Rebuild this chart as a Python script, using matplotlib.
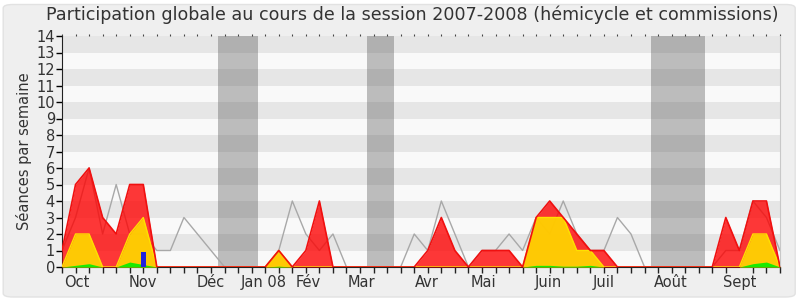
import matplotlib
matplotlib.use('Agg')
from matplotlib import pyplot as plt
from matplotlib.patches import FancyBboxPatch

# weekly values, session 2007-2008 (week 0 = start of october)
weeks = list(range(54))
presence = [1, 5, 6, 3, 2, 5, 5, 0, 0, 0, 0, 0, 0, 0, 0, 0, 1, 0, 1, 4,
            0, 0, 0, 0, 0, 0, 0, 1, 3, 1, 0, 1, 1, 1, 0, 3, 4, 3, 2, 1,
            1, 0, 0, 0, 0, 0, 0, 0, 0, 3, 1, 4, 4, 0]
hemicycle = [0, 2, 2, 0, 0, 2, 3, 0, 0, 0, 0, 0, 0, 0, 0, 0, 1, 0, 0, 0,
             0, 0, 0, 0, 0, 0, 0, 0, 0, 0, 0, 0, 0, 0, 0, 3, 3, 3, 1, 1,
             0, 0, 0, 0, 0, 0, 0, 0, 0, 0, 0, 2, 2, 0]
interventions = [0, 0.1, 0.2, 0, 0, 0.3, 0.15, 0, 0, 0, 0, 0, 0, 0, 0, 0, 0.05, 0, 0, 0,
                 0, 0, 0, 0, 0, 0, 0, 0, 0, 0, 0, 0, 0, 0, 0, 0.1, 0.1, 0.05, 0.05, 0.1,
                 0, 0, 0, 0, 0, 0, 0, 0, 0, 0, 0, 0.2, 0.3, 0]
mediane = [1, 3, 6, 2, 5, 2, 2, 1, 1, 3, 2, 1, 0, 0, 0, 0, 1, 4, 2, 1,
           2, 0, 0, 0, 0, 0, 2, 1, 4, 2, 0, 1, 1, 2, 1, 3, 2, 4, 2, 1,
           1, 3, 2, 0, 0, 0, 0, 0, 0, 1, 1, 4, 3, 1]
questions_weeks = [6]
questions = [0.9]
vacances = [(11.5, 14.5), (22.5, 24.5), (43.5, 47.5)]
mois = ['Oct', 'Nov', 'Déc', 'Jan 08', 'Fév', 'Mar', 'Avr', 'Mai', 'Juin', 'Juil', 'Août', 'Sept']
mois_pos = [1.1, 5.95, 10.95, 14.9, 18.2, 22.1, 26.95, 31.1, 35.9, 39.95, 44.95, 50.0]

fig = plt.figure(figsize=(8, 3), dpi=100, facecolor='white')
fig.patches.append(FancyBboxPatch((0.004, 0.01), 0.99, 0.975, boxstyle='round,pad=0,rounding_size=0.012',
                                  transform=fig.transFigure, facecolor='#efefef', edgecolor='#e2e2e2',
                                  linewidth=1, zorder=-10))
ax = fig.add_axes([0.0775, 0.11, 0.8975, 0.77])

for k in range(14):
    ax.axhspan(k, k + 1, color='#e6e6e6' if k % 2 else '#f9f9f9', lw=0, zorder=0)
for a, b in vacances:
    ax.axvspan(a, b, color='#3e3e3e', alpha=0.32, lw=0, zorder=1)

ax.plot(weeks, mediane, color='#a8a8a8', lw=1, zorder=2)
ax.fill_between(weeks, presence, color='#ff0000', alpha=0.78, lw=0, zorder=3)
ax.fill_between(weeks, hemicycle, color='#ffd500', alpha=0.93, lw=0, zorder=4)
ax.plot(weeks, hemicycle, color='#ffe000', lw=1, zorder=4)
ax.fill_between(weeks, interventions, color='#00ee00', alpha=0.9, lw=0, zorder=5)
ax.plot(weeks, presence, color='#f01010', lw=1.2, zorder=5)
ax.bar(questions_weeks, questions, width=0.35, color='#2222dd', zorder=6)

ax.set_xlim(0, 53)
ax.set_ylim(0, 14)
ax.set_yticks(range(15))
ax.set_xticks(weeks, minor=True)
ax.set_xticks(mois_pos)
ax.set_xticklabels(mois)
ax.tick_params(axis='x', which='major', length=0, labelsize=10.5, colors='#333333', pad=6)
ax.tick_params(axis='x', which='minor', length=4, width=1, color='#222222')
ax.tick_params(axis='y', length=4, width=1, labelsize=10.5, labelcolor='#333333', pad=1)
ax.spines['top'].set_visible(False)
ax.spines['right'].set_color('#c8c8c8')
ax.spines['left'].set_color('#222222')
ax.spines['bottom'].set_color('#222222')

top = ax.secondary_xaxis('top')
top.set_xticks(weeks)
top.set_xticklabels([])
top.tick_params(length=1.2, width=0.8, color='#444444')
top.spines['top'].set_visible(False)

ax.set_ylabel('Séances par semaine', fontsize=10.5, color='#333333', labelpad=3)
fig.suptitle('Participation globale au cours de la session 2007-2008 (hémicycle et commissions)',
             fontsize=12.6, color='#333333', x=0.515, y=0.98)

plt.savefig('out.png', dpi=100, facecolor=fig.get_facecolor())
